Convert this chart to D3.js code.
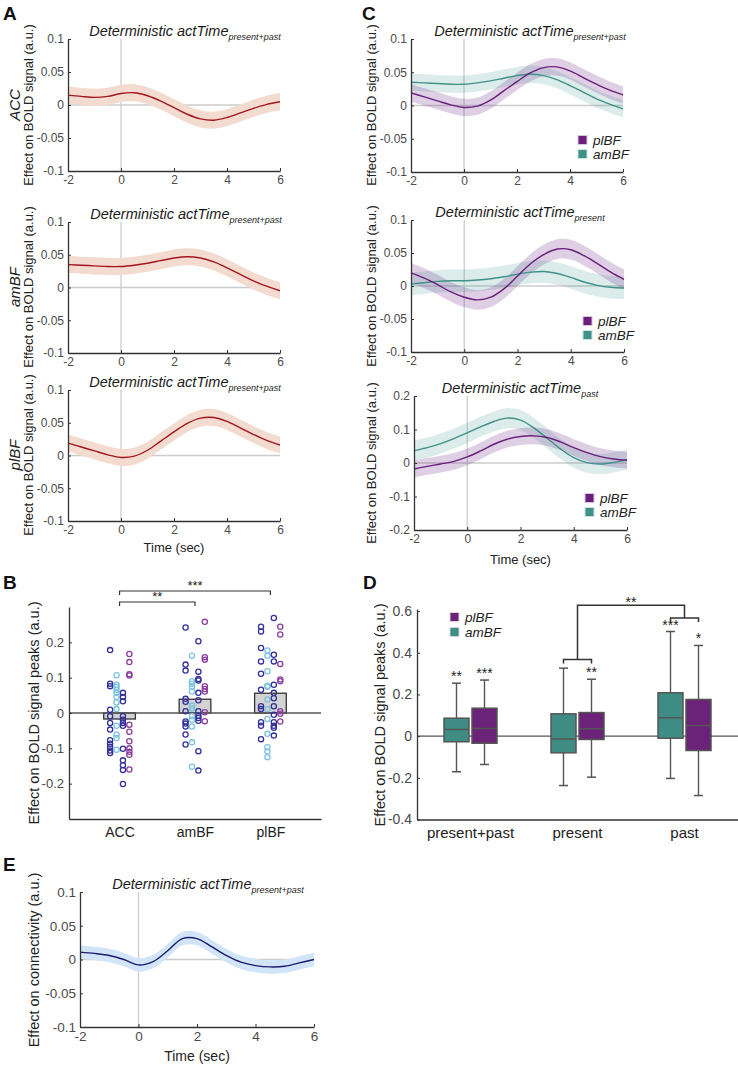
<!DOCTYPE html>
<html><head><meta charset="utf-8">
<script src="https://cdn.jsdelivr.net/npm/d3@7"></script>
<style>body{margin:0;background:#fff} text{font-family:"Liberation Sans",Arial,Helvetica,sans-serif}</style>
</head><body><svg id="fig" width="738" height="1068" xmlns="http://www.w3.org/2000/svg"></svg>
<script>
// ---------------- DATA ----------------
const timePoints = [-2,-1.5,-1,-0.5,0,0.5,1,1.5,2,2.5,3,3.5,4,4.5,5,5.5,6];
const timeTicks = [-2,0,2,4,6];
const boldTicks = [-0.1,-0.05,0,0.05,0.1];
const pastTicks = [-0.2,-0.1,0,0.1,0.2];

// Panel A / C1 : present+past
const accPresentPast  = [0.015,0.013,0.0115,0.013,0.0175,0.0185,0.014,0.006,-0.004,-0.014,-0.021,-0.023,-0.019,-0.012,-0.005,0.001,0.005];
const amBFPresentPast = [0.035,0.034,0.033,0.032,0.032,0.034,0.037,0.041,0.045,0.047,0.045,0.039,0.030,0.020,0.010,0.002,-0.005];
const plBFPresentPast = [0.019,0.013,0.007,0.001,-0.003,-0.001,0.008,0.022,0.036,0.049,0.057,0.058,0.052,0.042,0.032,0.023,0.016];
// C2 : present
const plBFPresent = [0.020,0.012,0.002,-0.009,-0.017,-0.021,-0.017,-0.004,0.015,0.034,0.048,0.056,0.055,0.046,0.034,0.021,0.010];
const amBFPresent = [0.003,0.005,0.007,0.008,0.008,0.009,0.011,0.014,0.018,0.021,0.022,0.019,0.013,0.006,0.001,-0.002,-0.003];
// C3 : past
const plBFPast = [-0.018,-0.010,-0.003,0.005,0.018,0.036,0.056,0.071,0.079,0.081,0.076,0.063,0.046,0.031,0.019,0.012,0.008];
const amBFPast = [0.037,0.046,0.058,0.073,0.090,0.108,0.124,0.134,0.128,0.105,0.074,0.042,0.016,0.001,-0.003,0.002,0.010];
// E : connectivity
const connectivity = [0.011,0.009,0.006,0.0,-0.008,-0.003,0.013,0.031,0.031,0.019,0.006,-0.004,-0.009,-0.011,-0.010,-0.005,0.0];
// standard-error half widths
const seACC = 0.013, seAmBF = 0.013, sePlBF = 0.013;
const sePlBFPresent = 0.015, seAmBFPresent = 0.017;
const sePlBFPast = 0.025, seAmBFPast = 0.03;
const seConn = 0.01;

// Panel B : peaks
const regions = ['ACC','amBF','plBF'];
const regionMeans = [-0.017, 0.039, 0.056];
const peakTicks = [-0.2,-0.1,0,0.1,0.2];
const accDarkL  = [0.178,0.083,0.076,0.009,-0.009,-0.028,-0.047,-0.077,-0.087,-0.096,-0.106,-0.113];
const accLight  = [0.107,0.080,0.074,0.066,0.057,0.045,0.030,0.011,-0.036,-0.061,-0.071,-0.104];
const accDarkR  = [0.057,0.045,0.033,-0.009,-0.019,-0.028,-0.036,-0.101,-0.134,-0.148,-0.161,-0.201];
const accPurple = [0.167,0.144,0.110,0.106,-0.033,-0.053,-0.080,-0.100,-0.110,-0.118,-0.160];
const amDarkL   = [0.242,0.137,0.120,0.040,0.032,0.005,-0.024,-0.030,-0.038,-0.061,-0.089];
const amLight   = [0.162,0.090,0.083,0.074,0.061,0.021,0.013,-0.009,-0.019,-0.038,-0.083,-0.152];
const amDarkR   = [0.203,0.117,0.096,0.092,0.057,0.036,0.005,-0.008,-0.014,-0.022,-0.108,-0.163];
const amPurple  = [0.258,0.158,0.151,0.076,0.068,0.061,0.002,-0.023];
const plDarkL   = [0.244,0.231,0.184,0.146,0.111,0.066,0.019,0.011,-0.026,-0.036,-0.074];
const plLight   = [0.177,0.162,0.118,0.077,0.074,0.038,0.011,-0.017,-0.059,-0.097,-0.109,-0.125];
const plDarkR   = [0.269,0.165,0.146,0.080,0.057,0.042,0.019,-0.005,-0.026,-0.036,-0.042,-0.064];
const plPurple  = [0.244,0.222,0.139,0.095,0.090,0.005,-0.002,-0.024];

// Panel D : boxplots [whiskerLow, q1, median, q3, whiskerHigh]
const boxCategories = ['present+past','present','past'];
const boxTicks = [-0.4,-0.2,0,0.2,0.4,0.6];
const amBFBoxes = [[-0.171,-0.027,0.032,0.086,0.254],[-0.237,-0.080,-0.014,0.107,0.326],[-0.203,-0.010,0.088,0.208,0.502]];
const plBFBoxes = [[-0.136,-0.034,0.037,0.134,0.269],[-0.197,-0.016,0.035,0.113,0.273],[-0.285,-0.069,0.051,0.176,0.435]];
const amBFStars = ['**','','***'];
const plBFStars = ['***','**','*'];

// ---------------- STYLE ----------------
const C = {
  axis:'#333333', tick:'#4a4a4a', ref:'#cccccc',
  red:'#a3161f', redBand:'#f3dbd0',
  purple:'#6b1f7c', purpleBand:'#7b3f98',
  teal:'#3f918a', tealBand:'#5aa8a0',
  navy:'#1c1a6e', navyBand:'#d2e5f8',
  dark:'#35319b', light:'#7cc3de', pur:'#8e3f9e',
  boxTeal:'#3f8c85', boxPurple:'#6b2279', boxEdge:'#555555'
};
const svg = d3.select('#fig');
const fmt = v => v === 0 ? '0' : String(+v.toFixed(2));

function panelLetter(t, x, y){
  svg.append('text').attr('x',x).attr('y',y).attr('font-size',19).attr('font-weight','bold').attr('fill','#111').text(t);
}
function vlabel(lines, yc){
  lines.forEach(l=>{
    svg.append('text').attr('transform',`translate(${l.x},${yc}) rotate(-90)`).attr('text-anchor','middle')
      .attr('dy','0.35em').attr('font-size',l.size).attr('font-style',l.italic?'italic':'normal').attr('fill','#222').text(l.t);
  });
}
function title(x, y, sub){
  const t = svg.append('text').attr('x',x).attr('y',y).attr('text-anchor','middle').attr('font-style','italic').attr('fill','#1a1a1a');
  t.append('tspan').attr('font-size',14.5).text('Deterministic actTime');
  t.append('tspan').attr('font-size',9).attr('dy',4).text(sub);
}
function styleAxis(a, size){
  a.select('.domain').attr('stroke',C.axis).attr('stroke-width',1.3);
  a.selectAll('.tick line').attr('stroke',C.axis);
  a.selectAll('.tick text').attr('fill',C.tick).attr('font-size',size).attr('font-family','"Liberation Sans",Arial,sans-serif');
}

function timecourse(cfg){
  const g = svg.append('g');
  const x = d3.scaleLinear().domain([-2,6]).range([cfg.x0,cfg.x1]);
  const y = d3.scaleLinear().domain(cfg.yDomain).range([cfg.y1,cfg.y0]);
  g.append('line').attr('x1',x(-2)).attr('x2',x(6)).attr('y1',y(0)).attr('y2',y(0)).attr('stroke',C.ref).attr('stroke-width',1.3);
  g.append('line').attr('x1',x(0)).attr('x2',x(0)).attr('y1',cfg.y0).attr('y2',cfg.y1).attr('stroke',C.ref).attr('stroke-width',1.3);
  const crv = d3.curveCatmullRom.alpha(0.5);
  cfg.series.forEach(s=>{
    const pts = timePoints.map((t,i)=>({t, v:s.values[i]}));
    g.append('path').datum(pts)
      .attr('d', d3.area().x(d=>x(d.t)).y0(d=>y(d.v - s.se)).y1(d=>y(d.v + s.se)).curve(crv))
      .attr('fill', s.band).attr('fill-opacity', s.bandOpacity);
  });
  cfg.series.forEach(s=>{
    const pts = timePoints.map((t,i)=>({t, v:s.values[i]}));
    g.append('path').datum(pts)
      .attr('d', d3.line().x(d=>x(d.t)).y(d=>y(d.v)).curve(crv))
      .attr('fill','none').attr('stroke', s.color).attr('stroke-width',1.4);
  });
  const ax = g.append('g').attr('transform',`translate(0,${cfg.y1})`)
    .call(d3.axisBottom(x).tickValues(timeTicks).tickFormat(fmt).tickSizeInner(-3).tickSizeOuter(0).tickPadding(4));
  styleAxis(ax, cfg.tickSize||12);
  const ay = g.append('g').attr('transform',`translate(${cfg.x0},0)`)
    .call(d3.axisLeft(y).tickValues(cfg.yTicks).tickFormat(fmt).tickSizeInner(-3).tickSizeOuter(0).tickPadding(4));
  styleAxis(ay, cfg.tickSize||12);
  title(cfg.titleX, cfg.y0-3, cfg.sub);
  if (cfg.xlabel) svg.append('text').attr('x',(cfg.x0+cfg.x1)/2).attr('y',cfg.y1+(cfg.xlabelDy||31)).attr('text-anchor','middle').attr('font-size',cfg.xlabelSize||13).attr('fill','#222').text('Time (sec)');
  if (cfg.legend){
    cfg.legend.forEach((l,i)=>{
      const yy = cfg.legendY + i*14;
      svg.append('rect').attr('x',cfg.legendX).attr('y',yy-4.5).attr('width',9).attr('height',9).attr('fill',l.color).attr('stroke',l.edge).attr('stroke-width',1);
      svg.append('text').attr('x',cfg.legendX+15).attr('y',yy).attr('dy','0.35em').attr('font-size',13.5).attr('font-style','italic').attr('fill','#222').text(l.name);
    });
  }
}

const legendPT = [{name:'plBF',color:C.purple,edge:'#d8c6e0'},{name:'amBF',color:C.teal,edge:'#cfe4e1'}];

// ---- Panel A ----
panelLetter('A',3,20);
timecourse({x0:68,x1:280,y0:39,y1:171,yDomain:[-0.1,0.1],yTicks:boldTicks,titleX:185,sub:'present+past',
  series:[{values:accPresentPast,se:seACC,color:C.red,band:C.redBand,bandOpacity:1}]});
vlabel([{t:'ACC',x:15,italic:true,size:15},{t:'Effect on BOLD signal (a.u.)',x:28,size:13}],105);
timecourse({x0:68,x1:280,y0:222,y1:353,yDomain:[-0.1,0.1],yTicks:boldTicks,titleX:186,sub:'present+past',
  series:[{values:amBFPresentPast,se:seAmBF,color:C.red,band:C.redBand,bandOpacity:1}]});
vlabel([{t:'amBF',x:15,italic:true,size:15},{t:'Effect on BOLD signal (a.u.)',x:28,size:13}],287);
timecourse({x0:68,x1:280,y0:390,y1:521,yDomain:[-0.1,0.1],yTicks:boldTicks,titleX:185,sub:'present+past',xlabel:true,
  series:[{values:plBFPresentPast,se:sePlBF,color:C.red,band:C.redBand,bandOpacity:1}]});
vlabel([{t:'plBF',x:15,italic:true,size:15},{t:'Effect on BOLD signal (a.u.)',x:28,size:13}],455);

// ---- Panel C ----
panelLetter('C',362,20);
timecourse({x0:411,x1:623,y0:39,y1:172,yDomain:[-0.1,0.1],yTicks:boldTicks,titleX:530,sub:'present+past',
  legend:legendPT,legendX:578,legendY:140,
  series:[{values:amBFPresentPast,se:seAmBF,color:C.teal,band:C.tealBand,bandOpacity:0.22},
          {values:plBFPresentPast,se:sePlBF,color:C.purple,band:C.purpleBand,bandOpacity:0.25}]});
vlabel([{t:'Effect on BOLD signal (a.u.)',x:371,size:13}],105);
timecourse({x0:411,x1:624,y0:220,y1:352,yDomain:[-0.1,0.1],yTicks:boldTicks,titleX:520,sub:'present',
  legend:legendPT,legendX:583,legendY:321,
  series:[{values:amBFPresent,se:seAmBFPresent,color:C.teal,band:C.tealBand,bandOpacity:0.22},
          {values:plBFPresent,se:sePlBFPresent,color:C.purple,band:C.purpleBand,bandOpacity:0.25}]});
vlabel([{t:'Effect on BOLD signal (a.u.)',x:371,size:13}],286);
timecourse({x0:414,x1:627,y0:396,y1:530,yDomain:[-0.2,0.2],yTicks:pastTicks,titleX:520,sub:'past',xlabel:true,xlabelDy:34,
  legend:legendPT,legendX:585,legendY:498,
  series:[{values:amBFPast,se:seAmBFPast,color:C.teal,band:C.tealBand,bandOpacity:0.22},
          {values:plBFPast,se:sePlBFPast,color:C.purple,band:C.purpleBand,bandOpacity:0.25}]});
vlabel([{t:'Effect on BOLD signal (a.u.)',x:371,size:13}],463);

// ---- Panel E ----
panelLetter('E',3,871);
timecourse({x0:80,x1:314,y0:892,y1:1027,yDomain:[-0.1,0.1],yTicks:boldTicks,titleX:208,sub:'present+past',xlabel:true,xlabelDy:34,xlabelSize:14,tickSize:13.5,
  series:[{values:connectivity,se:seConn,color:C.navy,band:C.navyBand,bandOpacity:1}]});
vlabel([{t:'Effect on connectivity (a.u.)',x:34,size:14.5}],960);

// ---- Panel B ----
panelLetter('B',3,589);
(function(){
  const g = svg.append('g');
  const x = d3.scaleLinear().domain([0.33,3.67]).range([69,321]);
  const y = d3.scaleLinear().domain([-0.3,0.3]).range([819,607]);
  const bw = 0.21;
  regions.forEach((r,i)=>{
    const m = regionMeans[i];
    g.append('rect').attr('x',x(i+1-bw)).attr('width',x(i+1+bw)-x(i+1-bw))
      .attr('y',y(Math.max(0,m))).attr('height',Math.abs(y(m)-y(0)))
      .attr('fill','#d3d3d3').attr('stroke','#333').attr('stroke-width',1.3);
  });
  g.append('line').attr('x1',x(0.33)).attr('x2',x(3.67)).attr('y1',y(0)).attr('y2',y(0)).attr('stroke','#555').attr('stroke-width',1.3);
  const colOffsets = [-0.125,-0.04,0.045,0.13];
  const groups = [
    [accDarkL,accLight,accDarkR,accPurple],
    [amDarkL,amLight,amDarkR,amPurple],
    [plDarkL,plLight,plDarkR,plPurple]];
  const colColors = [C.dark,C.light,C.dark,C.pur];
  groups.forEach((cols,ci)=>cols.forEach((vals,k)=>{
    g.selectAll(null).data(vals).enter().append('circle')
      .attr('cx',x(ci+1+colOffsets[k])).attr('cy',d=>y(d)).attr('r',2.6)
      .attr('fill','none').attr('stroke',colColors[k]).attr('stroke-width',1.3);
  }));
  const ay = g.append('g').attr('transform',`translate(${x(0.33)},0)`)
    .call(d3.axisLeft(y).tickValues(peakTicks).tickFormat(fmt).tickSizeInner(-3).tickSizeOuter(0).tickPadding(5));
  styleAxis(ay, 13);
  const ax = g.append('g').attr('transform',`translate(0,${y(-0.3)})`)
    .call(d3.axisBottom(x).tickValues([1,2,3]).tickFormat((d,i)=>regions[i]).tickSize(0).tickPadding(8));
  styleAxis(ax, 14);
  ax.selectAll('.tick text').attr('fill','#222');
  const br = (a,b,yy,txt)=>{
    g.append('path').attr('d',`M${x(a)},${yy+4}V${yy}H${x(b)}V${yy+4}`).attr('fill','none').attr('stroke','#333').attr('stroke-width',1.2);
    g.append('text').attr('x',(x(a)+x(b))/2).attr('y',yy-1).attr('text-anchor','middle').attr('font-size',13).attr('fill','#222').text(txt);
  };
  br(1,3,591,'***');
  br(1,2,602,'**');
  vlabel([{t:'Effect on BOLD signal peaks (a.u.)',x:34,size:14.5}],713);
})();

// ---- Panel D ----
panelLetter('D',363,589);
(function(){
  const g = svg.append('g');
  const xb = d3.scaleBand().domain(boxCategories).range([417,738]);
  const y = d3.scaleLinear().domain([-0.4,0.61]).range([819.5,609]);
  const off = 14, hw = 12.5, cap = 4.5;
  g.append('line').attr('x1',417).attr('x2',738).attr('y1',y(0)).attr('y2',y(0)).attr('stroke','#555').attr('stroke-width',1.3);
  const drawBox = (cat, st, dx, fill, star)=>{
    const cx = xb(cat)+xb.bandwidth()/2+dx;
    g.append('line').attr('x1',cx).attr('x2',cx).attr('y1',y(st[0])).attr('y2',y(st[4])).attr('stroke',C.boxEdge).attr('stroke-width',1.4);
    [st[0],st[4]].forEach(v=>g.append('line').attr('x1',cx-cap).attr('x2',cx+cap).attr('y1',y(v)).attr('y2',y(v)).attr('stroke',C.boxEdge).attr('stroke-width',1.5));
    g.append('rect').attr('x',cx-hw).attr('width',2*hw).attr('y',y(st[3])).attr('height',y(st[1])-y(st[3]))
      .attr('fill',fill).attr('stroke',C.boxEdge).attr('stroke-width',1.5);
    g.append('line').attr('x1',cx-hw).attr('x2',cx+hw).attr('y1',y(st[2])).attr('y2',y(st[2])).attr('stroke',C.boxEdge).attr('stroke-width',1.5);
    if (star) g.append('text').attr('x',cx).attr('y',y(st[4])-2).attr('text-anchor','middle').attr('font-size',14).attr('fill','#222').text(star);
    return cx;
  };
  const cT = [], cP = [];
  boxCategories.forEach((cat,i)=>{
    cT.push(drawBox(cat, amBFBoxes[i], -off, C.boxTeal, amBFStars[i]));
    cP.push(drawBox(cat, plBFBoxes[i], off, C.boxPurple, plBFStars[i]));
  });
  const yA = y(0.368), yTop = y(0.628), yB = y(0.567);
  const midA = (cT[1]+cP[1])/2, midB = (cT[2]+cP[2])/2;
  g.append('path').attr('d',`M${cT[1]},${yA+4}V${yA}H${cP[1]}V${yA+4}`).attr('fill','none').attr('stroke','#333').attr('stroke-width',1.5);
  g.append('path').attr('d',`M${cT[2]},${yB+4}V${yB}H${cP[2]}V${yB+4}`).attr('fill','none').attr('stroke','#333').attr('stroke-width',1.5);
  g.append('path').attr('d',`M${midA},${yA}V${yTop}H${midB}V${yB}`).attr('fill','none').attr('stroke','#333').attr('stroke-width',1.5);
  g.append('text').attr('x',(midA+midB)/2).attr('y',yTop+2).attr('text-anchor','middle').attr('font-size',14).attr('fill','#222').text('**');
  const ay = g.append('g').attr('transform','translate(417,0)')
    .call(d3.axisLeft(y).tickValues(boxTicks).tickFormat(fmt).tickSizeInner(-3).tickSizeOuter(0).tickPadding(5));
  styleAxis(ay, 14);
  const ax = g.append('g').attr('transform',`translate(0,${y(-0.4)})`).call(d3.axisBottom(xb).tickSize(0).tickPadding(8));
  styleAxis(ax, 15);
  ax.selectAll('.tick text').attr('fill','#222');
  [{name:'plBF',color:C.boxPurple},{name:'amBF',color:C.boxTeal}].forEach((l,i)=>{
    const yy = 617 + i*15;
    g.append('rect').attr('x',450).attr('y',yy-4.5).attr('width',9).attr('height',9).attr('fill',l.color).attr('stroke','#d7d7d7');
    g.append('text').attr('x',465).attr('y',yy).attr('dy','0.35em').attr('font-size',13.5).attr('font-style','italic').attr('fill','#222').text(l.name);
  });
  vlabel([{t:'Effect on BOLD signal peaks (a.u.)',x:380,size:14.5}],715);
})();
</script></body></html>
